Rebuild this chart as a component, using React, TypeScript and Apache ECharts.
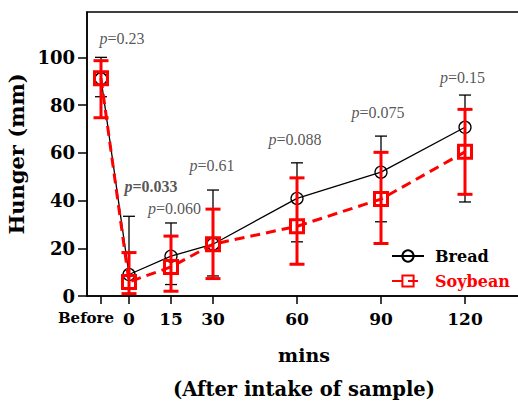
import React, { useEffect, useRef } from 'react';
import * as echarts from 'echarts';

const times = [-10, 0, 15, 30, 60, 90, 120];
const tickLabels = ['Before', '0', '15', '30', '60', '90', '120'];
const yTicks = [0, 20, 40, 60, 80, 100];

const breadMean = [91, 9.0, 16.7, 21.7, 40.9, 51.9, 70.7];
const breadUpper = [100, 33.4, 30.6, 44.4, 55.8, 67.0, 84.2];
const breadLower = [83.5, 0, 4.8, 8.4, 22.7, 31.1, 39.4];

const soyMean = [91.2, 5.9, 12.2, 21.7, 29.2, 40.6, 60.4];
const soyUpper = [98.6, 18.2, 25.1, 36.4, 49.5, 60.2, 78.2];
const soyLower = [74.7, 1.0, 2.0, 7.3, 13.3, 22.0, 42.6];

const pValues = ['0.23', '0.033', '0.060', '0.61', '0.088', '0.075', '0.15'];
const pBold = [false, true, false, false, false, false, false];

// label placement (style), pixel offsets relative to the top of the highest error bar
const pOffsets: [number, number][] = [
  [21, -18.5], [22, -30], [3.5, -14], [-1, -25], [-2, -23], [-3, -24], [-2.5, -18],
];

const BOLD_FONT = 'DejaVu Serif';
const P_FONT = 'Liberation Serif';

function errorSeries(lower: number[], upper: number[], color: string, width: number, capHalf: number, z: number) {
  return {
    type: 'custom',
    silent: true,
    z,
    clip: true,
    encode: { x: 0, y: [1, 2] },
    data: times.map((t, i) => [t, lower[i], upper[i]]),
    renderItem: (_params: any, api: any) => {
      const x = api.value(0);
      const lo = api.coord([x, api.value(1)]);
      const hi = api.coord([x, api.value(2)]);
      const style = { stroke: color, lineWidth: width, fill: 'none' };
      return {
        type: 'group',
        children: [
          { type: 'line', shape: { x1: lo[0], y1: lo[1], x2: hi[0], y2: hi[1] }, style },
          { type: 'line', shape: { x1: lo[0] - capHalf, y1: lo[1], x2: lo[0] + capHalf, y2: lo[1] }, style },
          { type: 'line', shape: { x1: hi[0] - capHalf, y1: hi[1], x2: hi[0] + capHalf, y2: hi[1] }, style },
        ],
      };
    },
  };
}

export default function App() {
  const ref = useRef<HTMLDivElement>(null);
  useEffect(() => {
    if (!ref.current) return;
    const chart = echarts.init(ref.current, undefined, { renderer: 'svg' });
    const labelFormatter = (v: number) => {
      const i = times.indexOf(Number(v));
      if (i < 0) return '';
      return i === 0 ? '{s|' + tickLabels[i] + '}' : '{b|' + tickLabels[i] + '}';
    };
    const labelRich = {
      s: { fontFamily: BOLD_FONT, fontWeight: 'bold', fontSize: 15, color: '#000', padding: [0, 30, 4, 0] },
      b: { fontFamily: BOLD_FONT, fontWeight: 'bold', fontSize: 17, color: '#000' },
    };
    const option: any = {
      animation: false,
      backgroundColor: '#fff',
      grid: {
        left: 87, right: -3, top: 12, bottom: 109,
        outerBoundsMode: 'none',
        containLabel: false,
        show: true, borderColor: '#000', borderWidth: 1.5, backgroundColor: 'transparent',
      },
      legend: {
        orient: 'vertical',
        left: 386,
        top: 243,
        itemWidth: 32,
        itemHeight: 14,
        itemGap: 9,
        data: [
          { name: 'Bread', textStyle: { color: '#000' } },
          { name: 'Soybean', textStyle: { color: '#ff0000' } },
        ],
        textStyle: { fontFamily: BOLD_FONT, fontWeight: 'bold', fontSize: 16, padding: [0, 0, 0, 6] },
      },
      xAxis: [
        {
          type: 'value',
          min: -15,
          max: 140,
          splitLine: { show: false },
          axisLine: { show: true, onZero: false, lineStyle: { color: '#000', width: 1.5 } },
          axisTick: { show: true, inside: false, length: 8, customValues: times, lineStyle: { color: '#000', width: 1.5 } },
          axisLabel: {
            customValues: times.slice(1),
            margin: 14,
            hideOverlap: false,
            showMinLabel: true,
            formatter: labelFormatter,
            rich: labelRich,
          },
          name: '{a|mins}\n{c|(After intake of sample)}',
          nameLocation: 'middle',
          nameGap: 42,
          nameTextStyle: {
            rich: {
              a: { fontFamily: BOLD_FONT, fontWeight: 'bold', fontSize: 19, color: '#000', lineHeight: 33 },
              c: { fontFamily: BOLD_FONT, fontWeight: 'bold', fontSize: 19.5, color: '#000', lineHeight: 37 },
            },
          },
        },
        {
          type: 'value',
          position: 'bottom',
          min: -15,
          max: 140,
          splitLine: { show: false },
          axisLine: { show: false, onZero: false },
          axisTick: { show: false },
          axisLabel: {
            customValues: times.slice(0, 1),
            margin: 14,
            showMinLabel: true,
            formatter: labelFormatter,
            rich: labelRich,
          },
        },
      ],
      yAxis: {
        type: 'value',
        min: 0,
        max: 119,
        interval: 20,
        splitLine: { show: false },
        axisLine: { show: true, onZero: false, lineStyle: { color: '#000', width: 1.5 } },
        axisTick: { show: true, inside: false, length: 9, customValues: yTicks, lineStyle: { color: '#000', width: 1.5 } },
        axisLabel: {
          customValues: yTicks,
          margin: 12,
          fontFamily: BOLD_FONT, fontWeight: 'bold', fontSize: 18, color: '#000',
        },
        name: 'Hunger (mm)',
        nameLocation: 'middle',
        nameGap: 57,
        nameTextStyle: { fontFamily: BOLD_FONT, fontWeight: 'bold', fontSize: 21, color: '#000' },
      },
      series: [
        errorSeries(breadLower, breadUpper, '#000', 1.3, 6, 1),
        {
          type: 'line',
          name: 'Bread',
          z: 2,
          data: times.map((t, i) => [t, breadMean[i]]),
          symbol: 'circle',
          symbolSize: 12,
          itemStyle: { color: 'rgba(255,255,255,0)', borderColor: '#000', borderWidth: 1.3 },
          lineStyle: { color: '#000', width: 1.3 },
        },
        errorSeries(soyLower, soyUpper, '#ff0000', 3, 7.5, 3),
        {
          type: 'line',
          name: 'Soybean',
          z: 4,
          data: times.map((t, i) => [t, soyMean[i]]),
          symbol: 'rect',
          symbolSize: 13,
          itemStyle: { color: 'rgba(255,255,255,0)', borderColor: '#ff0000', borderWidth: 3 },
          lineStyle: { color: '#ff0000', width: 3, type: [10, 6] },
        },
        {
          type: 'scatter',
          silent: true,
          z: 5,
          symbolSize: 1,
          itemStyle: { color: 'rgba(0,0,0,0)' },
          data: times.map((t, i) => ({
            value: [t, Math.max(breadUpper[i], soyUpper[i])],
            label: {
              show: true,
              position: 'inside',
              offset: pOffsets[i],
              formatter: pBold[i] ? '{ib|p}{nb|=' + pValues[i] + '}' : '{i|p}{n|=' + pValues[i] + '}',
            },
          })),
          label: {
            show: true,
            rich: {
              i: { fontFamily: P_FONT, fontStyle: 'italic', fontSize: 16, color: '#2a2a2a' },
              n: { fontFamily: P_FONT, fontSize: 16, color: '#2a2a2a' },
              ib: { fontFamily: P_FONT, fontStyle: 'italic', fontWeight: 'bold', fontSize: 16, color: '#2a2a2a' },
              nb: { fontFamily: P_FONT, fontWeight: 'bold', fontSize: 16, color: '#2a2a2a' },
            },
          },
        },
      ],
    };
    chart.setOption(option);
    return () => chart.dispose();
  }, []);
  return <div ref={ref} style={{ position: 'fixed', left: 0, top: 0, width: 518, height: 405 }} />;
}
